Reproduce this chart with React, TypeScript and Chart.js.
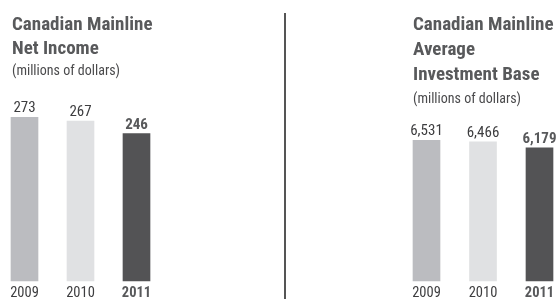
import React, { useEffect, useRef } from "react";
import { Chart, registerables } from "chart.js";

Chart.register(...registerables);

const FONT = '"Roboto Condensed", "Liberation Sans", sans-serif';

const years = ["2009", "2010", "2011"];
const netIncome = [273, 267, 246];
const investmentBase = [6531, 6466, 6179];
const barColors = ["#bbbcc0", "#e0e1e3", "#535355"];

const leftTitle = ["Canadian Mainline", "Net Income"];
const rightTitle = ["Canadian Mainline", "Average", "Investment Base"];
const unitsLabel = "(millions of dollars)";

const TEXT_DARK = "#3d3d3f";
const TEXT_BOLD = "#58595b";

const valueLabels = {
  id: "valueLabels",
  afterDatasetsDraw(chart: any) {
    const ctx = chart.ctx;
    const meta = chart.getDatasetMeta(0);
    const data = chart.data.datasets[0].data as number[];
    ctx.save();
    ctx.textAlign = "center";
    ctx.textBaseline = "alphabetic";
    meta.data.forEach((bar: any, i: number) => {
      const bold = i === data.length - 1;
      ctx.font = `${bold ? "bold " : ""}15px ${FONT}`;
      ctx.fillStyle = bold ? TEXT_BOLD : TEXT_DARK;
      ctx.fillText(data[i].toLocaleString("en-US"), bar.x, bar.y - 5);
    });
    ctx.restore();
  },
};

function BarPanel(props: {
  values: number[];
  yMax: number;
  width: number;
  padLeft: number;
  padRight: number;
}) {
  const ref = useRef<HTMLCanvasElement>(null);
  useEffect(() => {
    const chart = new Chart(ref.current!, {
      type: "bar",
      data: {
        labels: years,
        datasets: [
          {
            data: props.values,
            backgroundColor: barColors,
            borderWidth: 0,
            barThickness: 27,
            clip: false as any,
          },
        ],
      },
      options: {
        animation: false,
        responsive: false,
        maintainAspectRatio: false,
        layout: {
          padding: { left: props.padLeft, right: props.padRight, top: 0, bottom: 0 },
        },
        plugins: {
          legend: { display: false },
          tooltip: { enabled: false },
        },
        scales: {
          x: {
            offset: false,
            grid: { display: false, drawTicks: false },
            border: { display: false },
            afterFit: (scale: any) => {
              scale.height = 20;
            },
            ticks: {
              padding: 4,
              color: (c: any) => (c.index === years.length - 1 ? TEXT_BOLD : TEXT_DARK),
              font: (c: any) => ({
                family: FONT,
                size: 14.5,
                weight: c.index === years.length - 1 ? "bold" : "normal",
              }),
            },
          },
          y: {
            display: false,
            min: 0,
            max: props.yMax,
          },
        },
      },
      plugins: [valueLabels],
    });
    return () => chart.destroy();
  }, []);
  return (
    <canvas
      ref={ref}
      width={props.width}
      height={301}
      style={{ display: "block", width: props.width, height: 301 }}
    />
  );
}

const titleStyle: React.CSSProperties = {
  position: "absolute",
  fontFamily: FONT,
  fontWeight: "bold",
  fontSize: 19,
  color: TEXT_BOLD,
  whiteSpace: "nowrap",
};
const unitsStyle: React.CSSProperties = {
  position: "absolute",
  fontFamily: FONT,
  fontSize: 14,
  lineHeight: "16px",
  color: "#4a4a4c",
  whiteSpace: "nowrap",
};

export default function App() {
  return (
    <div
      style={{
        position: "absolute",
        left: 0,
        top: 0,
        width: 560,
        height: 301,
        overflow: "hidden",
        background: "#fff",
      }}
    >
      <div style={{ position: "absolute", left: 0, top: 0 }}>
        <BarPanel values={netIncome} yMax={469} width={285} padLeft={24.5} padRight={148.5} />
      </div>
      <div style={{ position: "absolute", left: 285, top: 0 }}>
        <BarPanel values={investmentBase} yMax={13045} width={275} padLeft={141.5} padRight={20.5} />
      </div>
      <div style={{ ...titleStyle, left: 12, top: 11.5, lineHeight: "24px" }}>
        {leftTitle.map((t) => (
          <div key={t}>{t}</div>
        ))}
      </div>
      <div style={{ ...unitsStyle, left: 12, top: 62 }}>{unitsLabel}</div>
      <div style={{ ...titleStyle, left: 413, top: 11, lineHeight: "25px" }}>
        {rightTitle.map((t) => (
          <div key={t}>{t}</div>
        ))}
      </div>
      <div style={{ ...unitsStyle, left: 413, top: 90 }}>{unitsLabel}</div>
      <div
        style={{
          position: "absolute",
          left: 284,
          top: 13,
          width: 2,
          height: 286,
          background: "#555",
        }}
      />
    </div>
  );
}
